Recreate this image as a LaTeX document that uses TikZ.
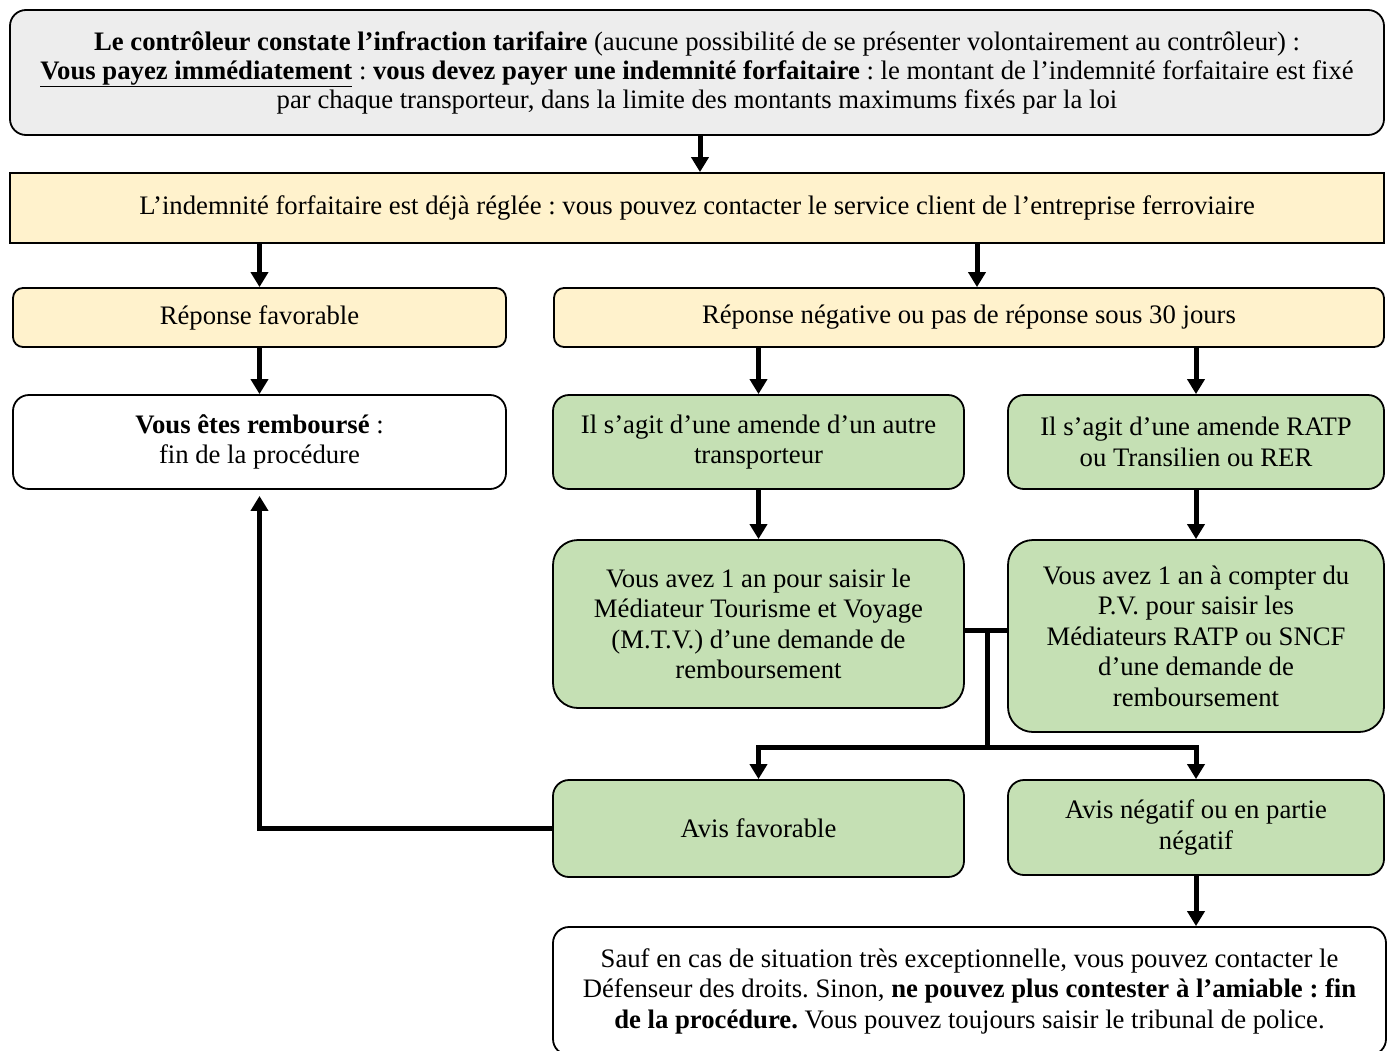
\documentclass[tikz,border=0pt]{standalone}
\usepackage{fontspec}
\setmainfont{Liberation Serif}
\usetikzlibrary{arrows.meta}
\definecolor{boxgray}{HTML}{EDEDED}
\definecolor{boxyellow}{HTML}{FFF2CC}
\definecolor{boxgreen}{HTML}{C5E0B4}
\frenchspacing

\begin{document}
\begin{tikzpicture}[x=1pt, y=-1pt,
  box/.style={draw=black, line width=1.8pt, align=center, inner sep=0pt,
    font=\fontsize{26.7}{30.5}\selectfont},
  ctrlbox/.style={box, fill=boxgray, rounded corners=16pt},
  infobox/.style={box, fill=boxyellow},
  answerbox/.style={box, fill=boxyellow, rounded corners=10pt},
  endbox/.style={box, fill=white, rounded corners=16pt},
  medbox/.style={box, fill=boxgreen, rounded corners=16pt},
  flow/.style={line width=5pt, -{Triangle[width=17pt,length=15pt]}},
  link/.style={line width=5pt}]
\useasboundingbox (0,0) rectangle (1392,1050);
\clip (0,0) rectangle (1392,1050);

% first rows
\node[ctrlbox, minimum width=1374pt, minimum height=125pt, font=\fontsize{26.7}{29}\selectfont] (ctrl) at (697,72.5)
  {\textbf{Le contrôleur constate l’infraction tarifaire} (aucune possibilité de se présenter volontairement au contrôleur) :\\
   \underline{\textbf{Vous payez immédiatement}} : \textbf{vous devez payer une indemnité forfaitaire} : le montant de l’indemnité forfaitaire est fixé\\
   par chaque transporteur, dans la limite des montants maximums fixés par la loi};
\node[infobox, minimum width=1374pt, minimum height=70pt] (regle) at (697,208)
  {L’indemnité forfaitaire est déjà réglée : vous pouvez contacter le service client de l’entreprise ferroviaire};
\node[answerbox, minimum width=493pt, minimum height=59pt] (favo) at (259.5,317.5) {Réponse favorable};
\node[answerbox, minimum width=830pt, minimum height=59pt] (nega) at (969,317.5)
  {Réponse négative ou pas de réponse sous 30 jours};

% left column and mediators
\node[endbox, minimum width=493pt, minimum height=94pt] (rembourse) at (259.5,442)
  {\textbf{Vous êtes remboursé} :\\ fin de la procédure};
\node[medbox, minimum width=411pt, minimum height=94pt] (autre) at (758.5,442)
  {Il s’agit d’une amende d’un autre\\ transporteur};
\node[medbox, minimum width=376pt, minimum height=94pt] (ratp) at (1196,442)
  {Il s’agit d’une amende RATP\\ ou Transilien ou RER};
\node[medbox, rounded corners=25pt, minimum width=411pt, minimum height=168pt] (mtv) at (758.5,624)
  {Vous avez 1 an pour saisir le\\ Médiateur Tourisme et Voyage\\ (M.T.V.) d’une demande de\\ remboursement};
\node[medbox, rounded corners=25pt, minimum width=376pt, minimum height=192pt] (mediat) at (1196,636)
  {Vous avez 1 an à compter du\\ P.V. pour saisir les\\ Médiateurs RATP ou SNCF\\ d’une demande de\\ remboursement};
\node[medbox, minimum width=411pt, minimum height=97pt] (avisfav) at (758.5,828.5) {Avis favorable};
\node[medbox, minimum width=376pt, minimum height=95pt] (avisneg) at (1196,827.5)
  {Avis négatif ou en partie\\ négatif};
\node[endbox, minimum width=833pt, minimum height=128pt] (fin) at (969.5,991)
  {Sauf en cas de situation très exceptionnelle, vous pouvez contacter le\\
   Défenseur des droits. Sinon, \textbf{ne pouvez plus contester à l’amiable : fin}\\
   \textbf{de la procédure.} Vous pouvez toujours saisir le tribunal de police.};

\coordinate (join) at (987,630);
\coordinate (split) at (987,747);

% arrows
\draw[flow] (ctrl.south -| 700,0) -- (regle.north -| 700,0);
\draw[flow] (regle.south -| favo) -- (favo.north);
\draw[flow] (regle.south -| 977,0) -- (nega.north -| 977,0);
\draw[flow] (favo.south) -- (rembourse.north);
\draw[flow] (nega.south -| autre) -- (autre.north);
\draw[flow] (nega.south -| ratp) -- (ratp.north);
\draw[flow] (autre.south) -- (mtv.north);
\draw[flow] (ratp.south) -- (mediat.north);
\draw[link] (mtv.east |- join) -- (mediat.west |- join);
\draw[link] (join) -- (split);
\draw[flow] ([xshift=2.5pt]split) -| (avisfav.north);
\draw[flow] ([xshift=-2.5pt]split) -| (avisneg.north);
\draw[flow] (avisfav.west) -| ([yshift=-6pt]rembourse.south);
\draw[flow] (avisneg.south) -- (avisneg.south |- fin.north);
\end{tikzpicture}
\end{document}
